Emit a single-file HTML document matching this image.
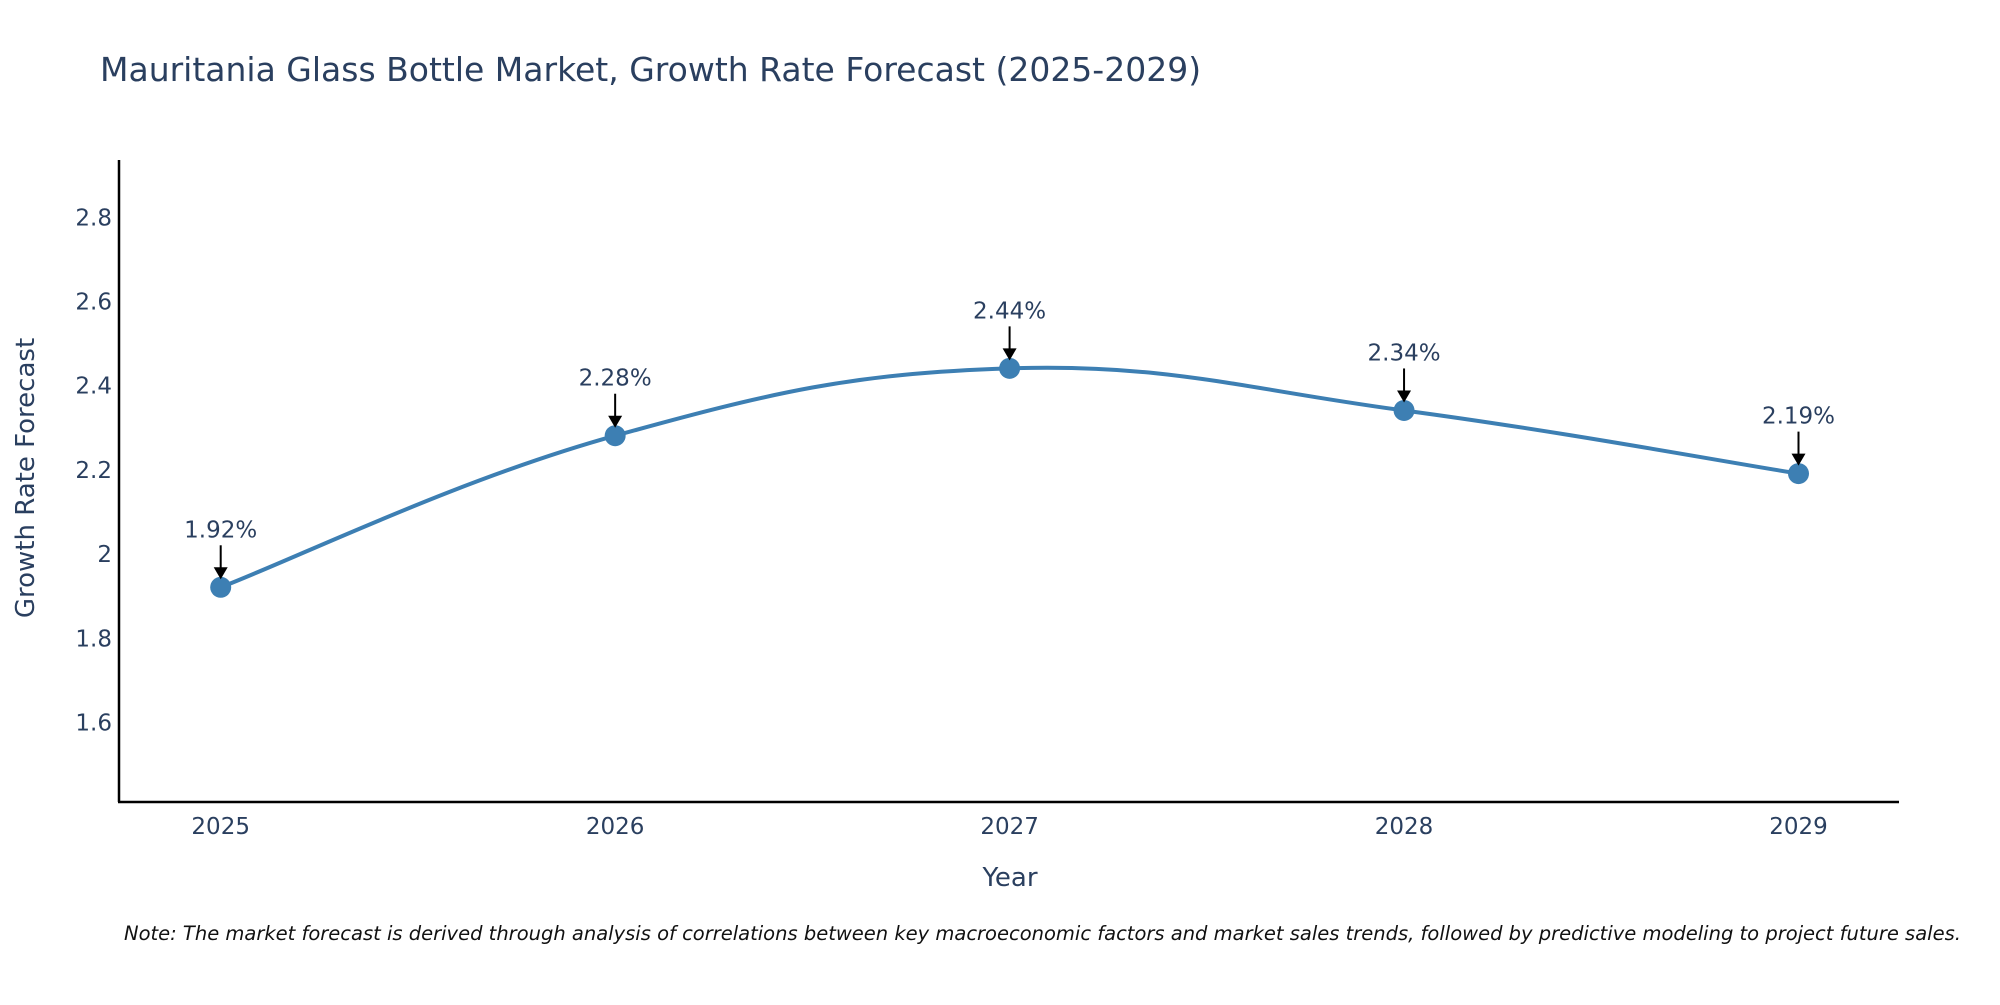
<!DOCTYPE html>
<html><head><meta charset="utf-8"><style>
body{margin:0;background:#fff;}
svg text{font-family:"DejaVu Sans","Liberation Sans",sans-serif;fill:#2a3f5f;}
</style></head><body>
<svg id="chart" width="2000" height="1000" viewBox="0 0 2000 1000" xmlns="http://www.w3.org/2000/svg">
<rect width="2000" height="1000" fill="#fff"/>
<text x="100" y="81" font-size="33">Mauritania Glass Bottle Market, Growth Rate Forecast (2025-2029)</text>
<g id="yticks"></g>
<g id="xticks"></g>
<g id="series"></g>
<g id="annots"></g>
<line x1="119" y1="160" x2="119" y2="802" stroke="#000" stroke-width="2.5"/>
<line x1="118" y1="802" x2="1899" y2="802" stroke="#000" stroke-width="2.5"/>
<text x="1010" y="886" font-size="26" text-anchor="middle">Year</text>
<text x="0" y="0" font-size="26" text-anchor="middle" transform="translate(34,478) rotate(-90)">Growth Rate Forecast</text>
<text x="124" y="940" font-size="19.5" font-style="italic" style="fill:#111">Note: The market forecast is derived through analysis of correlations between key macroeconomic factors and market sales trends, followed by predictive modeling to project future sales.</text>
</svg>
<script>
const years = [2025, 2026, 2027, 2028, 2029];
const rates = [1.92, 2.28, 2.44, 2.34, 2.19];
const yTickVals = [1.6, 1.8, 2.0, 2.2, 2.4, 2.6, 2.8];
const yTickLabels = ["1.6", "1.8", "2", "2.2", "2.4", "2.6", "2.8"];

const NS = "http://www.w3.org/2000/svg";
function X(yr){ return 220.7 + (yr - 2025) * 394.45; }
function Y(v){ return 722 - (v - 1.6) * 421; }
function mk(tag, attrs, parent){ const e=document.createElementNS(NS,tag); for(const k in attrs) e.setAttribute(k,attrs[k]); parent.appendChild(e); return e; }

const yt=document.getElementById('yticks');
yTickVals.forEach((v,i)=>{
  const t=mk('text',{x:112,y:Y(v)+8.5,'font-size':23,'text-anchor':'end'},yt);
  
  
  t.textContent=yTickLabels[i];
});
const xt=document.getElementById('xticks');
years.forEach(yr=>{
  const t=mk('text',{x:X(yr),y:834,'font-size':23,'text-anchor':'middle'},xt);
  
  
  t.textContent=String(yr);
});

const pts=years.map((yr,i)=>[X(yr),Y(rates[i])]);
let d=`M${pts[0][0]},${pts[0][1]}`;
const s=0.2;
for(let i=0;i<pts.length-1;i++){
  const p0=pts[Math.max(i-1,0)],p1=pts[i],p2=pts[i+1],p3=pts[Math.min(i+2,pts.length-1)];
  const c1=[p1[0]+(p2[0]-p0[0])*s,p1[1]+(p2[1]-p0[1])*s];
  const c2=[p2[0]-(p3[0]-p1[0])*s,p2[1]-(p3[1]-p1[1])*s];
  d+=` C${c1[0]},${c1[1]} ${c2[0]},${c2[1]} ${p2[0]},${p2[1]}`;
}
const sg=document.getElementById('series');
const line=mk('path',{d:d,fill:'none',stroke:'#3d7fb3','stroke-width':4},sg);


pts.forEach(p=>{
  const c=mk('circle',{cx:p[0],cy:p[1],r:10.5,fill:'#3d7fb3'},sg);
  
  
});
const ag=document.getElementById('annots');
pts.forEach((p,i)=>{
  const l=mk('line',{x1:p[0],y1:p[1]-42,x2:p[0],y2:p[1]-18,stroke:'#000','stroke-width':2},ag);
  
  
  const h=mk('polygon',{points:`${p[0]-7},${p[1]-20} ${p[0]+7},${p[1]-20} ${p[0]},${p[1]-8}`,fill:'#000'},ag);
  
  
  const t=mk('text',{x:p[0],y:p[1]-50,'font-size':23,'text-anchor':'middle'},ag);
  
  
  t.textContent=rates[i].toFixed(2)+'%';
});
</script>
</body></html>
